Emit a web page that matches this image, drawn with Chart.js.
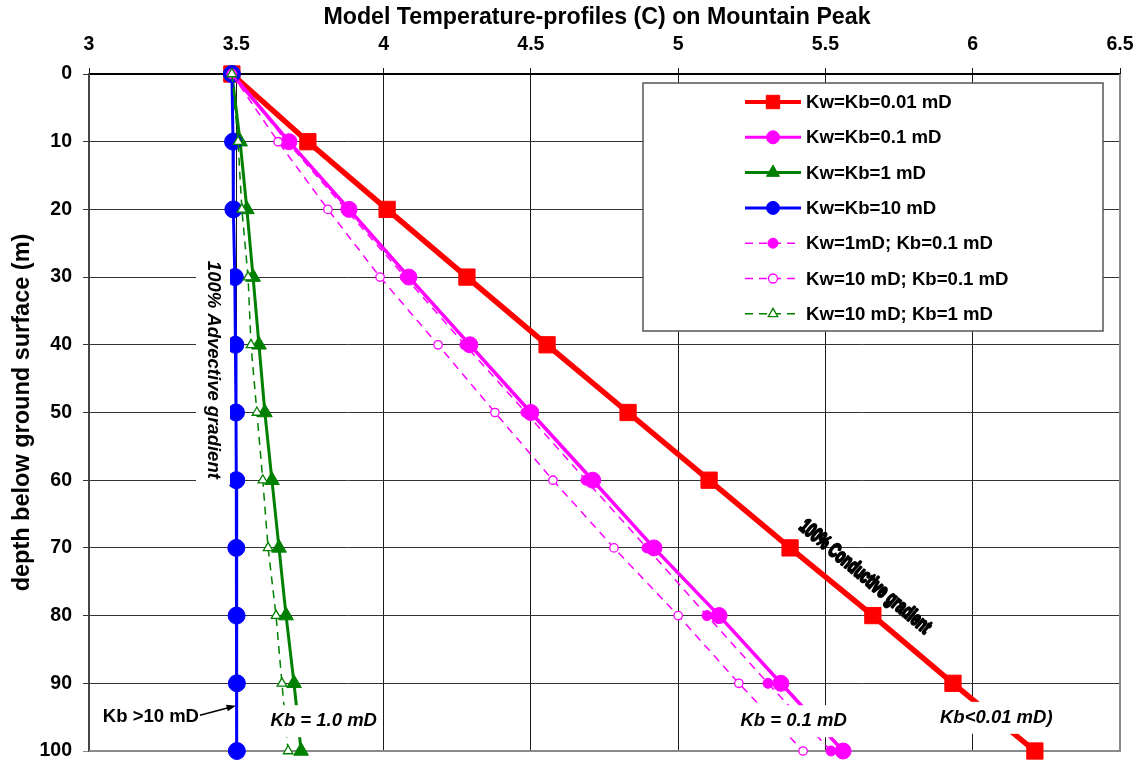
<!DOCTYPE html>
<html><head><meta charset="utf-8">
<script src="https://cdn.jsdelivr.net/npm/chart.js@4"></script>
<style>html,body{margin:0;padding:0;background:#fff;}canvas{display:block;}</style>
</head><body>
<canvas id="c" width="1143" height="761"></canvas>
<script>
// ---------- data ----------
const depths = [0, 10, 20, 30, 40, 50, 60, 70, 80, 90, 100];
const tempKwKb001   = [3.485, 3.743, 4.012, 4.283, 4.555, 4.830, 5.105, 5.380, 5.661, 5.933, 6.211];
const tempKwKb01    = [3.485, 3.679, 3.883, 4.086, 4.293, 4.500, 4.710, 4.918, 5.139, 5.349, 5.560];
const tempKwKb1     = [3.485, 3.513, 3.536, 3.557, 3.577, 3.597, 3.621, 3.645, 3.669, 3.696, 3.720];
const tempKwKb10    = [3.485, 3.489, 3.490, 3.495, 3.497, 3.499, 3.500, 3.500, 3.501, 3.502, 3.502];
const tempKw1Kb01   = [3.485, 3.672, 3.872, 4.073, 4.276, 4.483, 4.687, 4.894, 5.098, 5.305, 5.519];
const tempKw10Kb01  = [3.485, 3.642, 3.811, 3.988, 4.185, 4.378, 4.575, 4.782, 5.000, 5.206, 5.424];
const tempKw10Kb1   = [3.485, 3.506, 3.519, 3.540, 3.550, 3.570, 3.590, 3.608, 3.635, 3.655, 3.676];
const seriesLabels = ['Kw=Kb=0.01 mD', 'Kw=Kb=0.1 mD', 'Kw=Kb=1 mD', 'Kw=Kb=10 mD',
                      'Kw=1mD; Kb=0.1 mD', 'Kw=10 mD; Kb=0.1 mD', 'Kw=10 mD; Kb=1 mD'];
const xTickValues = [3, 3.5, 4, 4.5, 5, 5.5, 6, 6.5];
const xTickLabels = ['3', '3.5', '4', '4.5', '5', '5.5', '6', '6.5'];
const yTickValues = [0, 10, 20, 30, 40, 50, 60, 70, 80, 90, 100];
const yTickLabels = ['0', '10', '20', '30', '40', '50', '60', '70', '80', '90', '100'];
const chartTitle = 'Model Temperature-profiles (C) on Mountain Peak';
const yTitle = 'depth below ground surface (m)';

// ---------- styles ----------
const FONT = '"Liberation Sans", Arial, Helvetica, sans-serif';
const PLOT_BOTTOM_MARGIN = 10;
const seriesValues = [tempKwKb001, tempKwKb01, tempKwKb1, tempKwKb10, tempKw1Kb01, tempKw10Kb01, tempKw10Kb1];
const styles = [
  {color:'#FF0000', width:5.5, dash:[],    point:'rect',     r:11.5, bg:'#FF0000', lw:4, lr:9.5, order:7},
  {color:'#FF00FF', width:3.5, dash:[],    point:'circle',   r:8,    bg:'#FF00FF', lw:3, lr:6.5, order:6},
  {color:'#008000', width:3,   dash:[],    point:'triangle', r:8.5,  bg:'#008000', lw:3, lr:7.5, order:5},
  {color:'#0000FF', width:3,   dash:[],    point:'circle',   r:8.5,  bg:'#0000FF', lw:3, lr:6.5, order:4},
  {color:'#FF00FF', width:1.5, dash:[8,6], point:'circle',   r:5,    bg:'#FF00FF', lw:1.5, lr:5, order:3},
  {color:'#FF00FF', width:1.5, dash:[8,6], point:'circle',   r:4.2,  bg:'#FFFFFF', lw:1.5, lr:4.5, order:2},
  {color:'#008000', width:1.5, dash:[8,6], point:'triangle', r:5.5,  bg:'#FFFFFF', lw:1.5, lr:5.5, order:1}
];

const datasets = seriesValues.map((vals, i) => {
  const s = styles[i];
  return {
    label: seriesLabels[i],
    data: vals.map((t, k) => ({x: t, y: depths[k]})),
    showLine: true,
    borderColor: s.color,
    backgroundColor: s.bg,
    borderWidth: s.width,
    borderDash: s.dash,
    pointStyle: s.point,
    pointRadius: s.r,
    pointHoverRadius: s.r,
    pointBackgroundColor: s.bg,
    pointBorderColor: s.color,
    pointBorderWidth: s.bg === '#FFFFFF' ? 1.3 : 1,
    order: s.order,
    clip: false,
    tension: 0
  };
});

// annotations anchored in data coordinates
const notes = [
  {text:'100% Advective gradient', x:3.421, y:43.7, rot:90, font:'italic bold 18.5px ' + FONT, bg:true, bw:34},
  {text:'100% Conductive gradient', x:5.634, y:74.3, rot:40, font:'bold 20px ' + FONT, sx:0.66, bg:false, stroke:true},
  {text:'Kb = 1.0 mD', x:3.797, y:95.6, rot:0, font:'italic bold 18.5px ' + FONT, bg:true, bw:32},
  {text:'Kb = 0.1 mD', x:5.392, y:95.6, rot:0, font:'italic bold 18.5px ' + FONT, bg:true, bw:32},
  {text:'Kb<0.01 mD)', x:6.080, y:95.1, rot:0, font:'italic bold 18.5px ' + FONT, bg:true, bw:32},
  {text:'Kb >10 mD', x:3.047, y:95.0, rot:0, font:'bold 18.5px ' + FONT, bg:false, align:'left', arrowTo:{x:3.499, y:93.3}}
];

function drawMarker(ctx, style, r, x, y, fill, stroke, lw) {
  ctx.save();
  ctx.fillStyle = fill; ctx.strokeStyle = stroke; ctx.lineWidth = lw; ctx.setLineDash([]);
  ctx.beginPath();
  if (style === 'rect') {
    const h = r * Math.SQRT1_2; ctx.rect(x - h, y - h, 2 * h, 2 * h);
  } else if (style === 'triangle') {
    ctx.moveTo(x, y - r);
    ctx.lineTo(x + r * Math.sin(Math.PI * 2 / 3), y + r * 0.5);
    ctx.lineTo(x - r * Math.sin(Math.PI * 2 / 3), y + r * 0.5);
    ctx.closePath();
  } else {
    ctx.arc(x, y, r, 0, Math.PI * 2);
  }
  ctx.fill(); ctx.stroke();
  ctx.restore();
}

const overlay = {
  id: 'overlay',
  afterLayout(chart) {
    // stretch the plot area down to the wanted bottom margin
    const target = chart.height - PLOT_BOTTOM_MARGIN;
    const y = chart.scales.y;
    chart.chartArea.bottom = target;
    chart.chartArea.height = target - chart.chartArea.top;
    y.bottom = target;
    y.height = target - y.top;
    y.configure();
  },
  beforeDatasetsDraw(chart) {
    const {ctx, chartArea: a} = chart;
    ctx.save();
    ctx.strokeStyle = '#8a8a8a'; ctx.lineWidth = 2;
    ctx.beginPath();
    ctx.moveTo(a.right, a.top); ctx.lineTo(a.right, a.bottom); ctx.lineTo(a.left, a.bottom);
    ctx.stroke();
    ctx.restore();
  },
  afterDatasetsDraw(chart) {
    const {ctx, scales: {x, y}} = chart;
    notes.forEach(n => {
      const px = x.getPixelForValue(n.x), py = y.getPixelForValue(n.y);
      ctx.save();
      ctx.font = n.font;
      ctx.translate(px, py);
      ctx.rotate(n.rot * Math.PI / 180);
      if (n.sx) ctx.scale(n.sx, 1);
      const w = ctx.measureText(n.text).width;
      const left = n.align === 'left' ? 0 : -w / 2;
      if (n.bg) {
        ctx.fillStyle = '#FFFFFF';
        ctx.fillRect(left - 6, -n.bw / 2, w + 12, n.bw);
      }
      ctx.fillStyle = '#000';
      ctx.textBaseline = 'middle';
      ctx.textAlign = 'left';
      if (n.stroke) { ctx.strokeStyle = '#000'; ctx.lineWidth = 2.4; ctx.lineJoin = 'round'; ctx.strokeText(n.text, left, 0); }
      ctx.fillText(n.text, left, 0);
      ctx.restore();
      if (n.arrowTo) {
        const sx = px + w + 1, sy = py - 2;
        const ex = x.getPixelForValue(n.arrowTo.x), ey = y.getPixelForValue(n.arrowTo.y);
        const ang = Math.atan2(ey - sy, ex - sx);
        ctx.save();
        ctx.strokeStyle = '#000'; ctx.fillStyle = '#000'; ctx.lineWidth = 1.5;
        ctx.beginPath(); ctx.moveTo(sx, sy); ctx.lineTo(ex - 6 * Math.cos(ang), ey - 6 * Math.sin(ang)); ctx.stroke();
        ctx.beginPath();
        ctx.moveTo(ex, ey);
        ctx.lineTo(ex - 10 * Math.cos(ang - 0.35), ey - 10 * Math.sin(ang - 0.35));
        ctx.lineTo(ex - 10 * Math.cos(ang + 0.35), ey - 10 * Math.sin(ang + 0.35));
        ctx.closePath(); ctx.fill();
        ctx.restore();
      }
    });
    // legend
    const L = {left: 643, top: 83, right: 1103, bottom: 331, row0: 102, rowH: 35.3, lx0: 745, lx1: 801, tx: 806};
    ctx.save();
    ctx.fillStyle = '#FFFFFF';
    ctx.fillRect(L.left, L.top, L.right - L.left, L.bottom - L.top);
    ctx.strokeStyle = '#555'; ctx.lineWidth = 1.5;
    ctx.strokeRect(L.left, L.top, L.right - L.left, L.bottom - L.top);
    chart.data.datasets.forEach((ds, i) => {
      const s = styles[i];
      const ry = L.row0 + i * L.rowH;
      ctx.save();
      ctx.strokeStyle = s.color; ctx.lineWidth = s.lw; ctx.setLineDash(s.dash);
      ctx.beginPath(); ctx.moveTo(L.lx0, ry); ctx.lineTo(L.lx1, ry); ctx.stroke();
      ctx.restore();
      drawMarker(ctx, s.point, s.lr, (L.lx0 + L.lx1) / 2, ry, s.bg, s.color, s.bg === '#FFFFFF' ? 1.3 : 1);
      ctx.fillStyle = '#000';
      ctx.font = 'bold 18.6px ' + FONT;
      ctx.textBaseline = 'middle'; ctx.textAlign = 'left';
      ctx.fillText(ds.label, L.tx, ry + 1);
    });
    ctx.restore();
  },
  afterDraw(chart) {
    const {ctx} = chart;
    ctx.save();
    ctx.fillStyle = '#000';
    ctx.font = 'bold 23.2px ' + FONT;
    ctx.textAlign = 'center'; ctx.textBaseline = 'middle';
    ctx.fillText(chartTitle, 597, 18);
    ctx.restore();
  }
};

new Chart(document.getElementById('c'), {
  type: 'scatter',
  data: {datasets},
  options: {
    responsive: false,
    animation: false,
    devicePixelRatio: 1,
    layout: {padding: {left: 0, top: 0, right: 23, bottom: 10}},
    plugins: {legend: {display: false}, tooltip: {enabled: false}, title: {display: false}},
    scales: {
      x: {
        type: 'linear', position: 'top', min: 3, max: 6.5,
        afterFit: s => { s.height = 74; s.paddingLeft = 0; s.paddingRight = 0; },
        afterBuildTicks: s => { s.ticks = xTickValues.map(v => ({value: v})); },
        ticks: {
          callback: (v) => xTickLabels[xTickValues.indexOf(v)] ?? '',
          color: '#000', font: {family: FONT, size: 19.5, weight: 'bold'}, padding: 12, maxRotation: 0, autoSkip: false
        },
        grid: {color: '#1a1a1a', lineWidth: 1, tickLength: 6, drawTicks: true},
        border: {display: true, color: '#000', width: 2}
      },
      y: {
        type: 'linear', reverse: true, min: 0, max: 100,
        afterFit: s => { s.width = 89; s.paddingTop = 0; s.paddingBottom = 0; },
        afterBuildTicks: s => { s.ticks = yTickValues.map(v => ({value: v})); },
        ticks: {
          callback: (v) => yTickLabels[yTickValues.indexOf(v)] ?? '',
          color: '#000', font: {family: FONT, size: 19.5, weight: 'bold'}, padding: 11, autoSkip: false
        },
        grid: {color: (c) => c.tick && c.tick.value === 100 ? '#8a8a8a' : '#333', lineWidth: 1, tickLength: 6},
        border: {display: true, color: '#444', width: 2},
        title: {display: true, text: yTitle, color: '#000', font: {family: FONT, size: 23.5, weight: 'bold'}, padding: {top: 8, bottom: 0}}
      }
    }
  },
  plugins: [overlay]
});
</script>
</body></html>
